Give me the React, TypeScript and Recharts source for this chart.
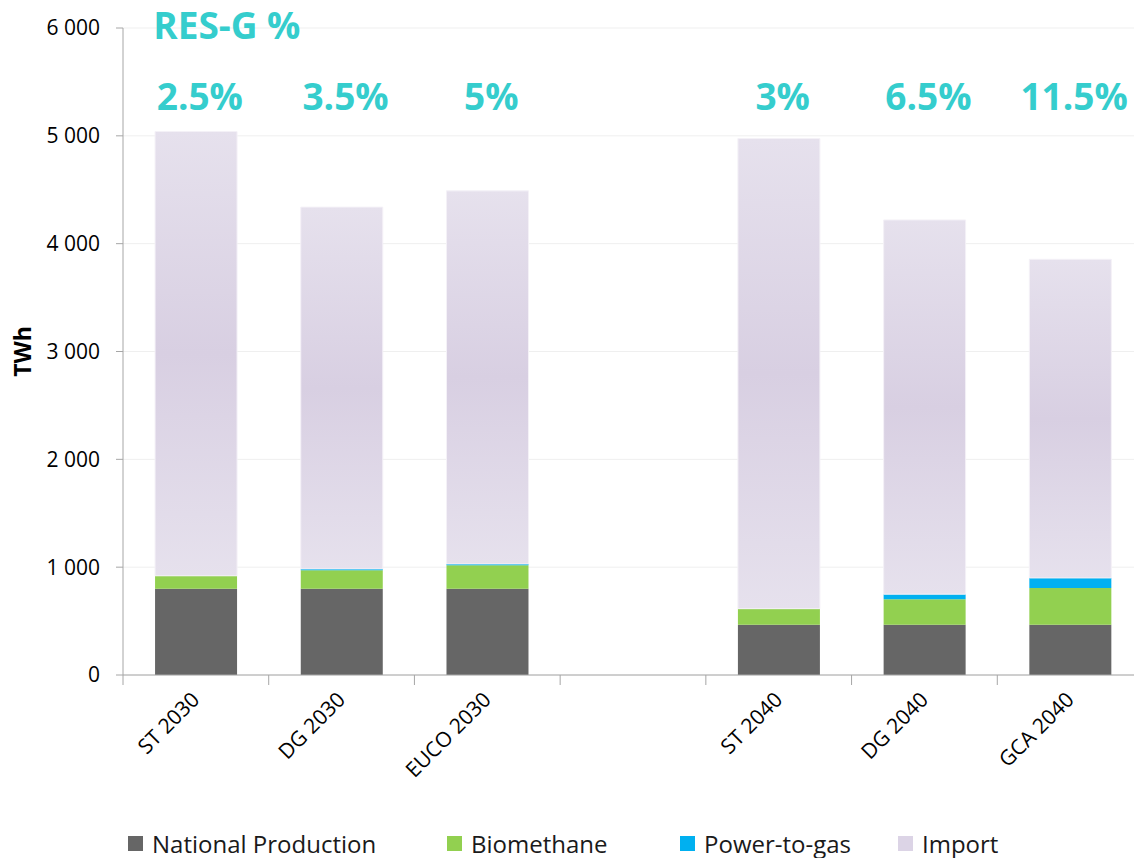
import {
  BarChart,
  Bar,
  XAxis,
  YAxis,
  CartesianGrid,
  Legend,
  ReferenceDot,
} from "recharts";

// scenarios, with an empty slot between 2030 and 2040
const scenarios = ["ST 2030", "DG 2030", "EUCO 2030", "", "ST 2040", "DG 2040", "GCA 2040"];
const nationalProduction = [800, 800, 800, null, 465, 465, 465];
const biomethane = [120, 172, 218, null, 150, 237, 342];
const powerToGas = [0, 12, 12, null, 0, 48, 93];
const importGas = [4120, 3355, 3460, null, 4360, 3470, 2955];
const resShare = ["2.5%", "3.5%", "5%", null, "3%", "6.5%", "11.5%"];
const yTicks = [0, 1000, 2000, 3000, 4000, 5000, 6000];

const seriesNames = ["National Production", "Biomethane", "Power-to-gas", "Import"];
const seriesColors = ["#666666", "#92D050", "#00B0F0", "#DCD4E6"];

const data = scenarios.map((s, i) => ({
  name: s,
  national: nationalProduction[i],
  bio: biomethane[i],
  p2g: powerToGas[i],
  imp: importGas[i],
}));

const CYAN = "#35CDCD";
const LABEL_Y = 5370;

const fmt = (v: number) => String(v).replace(/\B(?=(\d{3})+(?!\d))/g, " ");

function XTick(props: any) {
  const { x, y, payload } = props;
  const off = payload.offset ?? 72.9;
  return (
    <g>
      <line x1={x - off} y1={y} x2={x - off} y2={y + 10} stroke="#A6A6A6" />
      {payload.value && (
        <text
          x={x + 5}
          y={y + 26}
          textAnchor="end"
          fontSize={21}
          fill="#000"
          transform={`rotate(-45, ${x + 5}, ${y + 26})`}
        >
          {payload.value}
        </text>
      )}
    </g>
  );
}

function LegendBox() {
  const widths = [319, 233, 218, 150];
  return (
    <div style={{ display: "flex", paddingLeft: 128, height: 30, alignItems: "center" }}>
      {seriesNames.map((n, i) => (
        <div key={n} style={{ width: widths[i], display: "flex", alignItems: "center" }}>
          <span style={{ width: 15, height: 15, background: seriesColors[i], marginRight: 9 }} />
          <span style={{ fontSize: 24, color: "#1a1a1a", whiteSpace: "nowrap" }}>{n}</span>
        </div>
      ))}
    </div>
  );
}

export default function App() {
  return (
    <div
      style={{
        position: "absolute",
        left: 0,
        top: 0,
        width: 1134,
        height: 858,
        overflow: "hidden",
        background: "#fff",
        fontFamily: "'Open Sans', sans-serif",
      }}
    >
      <BarChart
        width={1143}
        height={858}
        data={data}
        margin={{ top: 28, right: 0, left: 0, bottom: 0 }}
        barCategoryGap="22%"
      >
        <defs>
          <linearGradient id="impGrad" x1="0" y1="0" x2="0" y2="1">
            <stop offset="0%" stopColor="#E6E1ED" />
            <stop offset="50%" stopColor="#D8CFE2" />
            <stop offset="100%" stopColor="#E6E1ED" />
          </linearGradient>
        </defs>
        <CartesianGrid vertical={false} stroke="#EFEFEF" />
        <XAxis
          dataKey="name"
          height={153}
          interval={0}
          tickLine={false}
          tickSize={0}
          tickMargin={0}
          axisLine={{ stroke: "#A6A6A6" }}
          tick={<XTick />}
        />
        <YAxis
          width={123}
          domain={[0, 6000]}
          ticks={yTicks}
          tickFormatter={fmt}
          tickSize={7}
          tickMargin={16}
          axisLine={{ stroke: "#A6A6A6" }}
          tickLine={{ stroke: "#A6A6A6" }}
          tick={{ fontSize: 21, fill: "#000" }}
          label={{
            content: (p: any) => {
              const vb = p.viewBox;
              const cx = vb.x + 22;
              const cy = vb.y + vb.height / 2;
              return (
                <text
                  x={cx}
                  y={cy}
                  textAnchor="middle"
                  dominantBaseline="central"
                  fontSize={23}
                  fontWeight="bold"
                  fill="#000"
                  transform={`rotate(-90, ${cx}, ${cy})`}
                >
                  TWh
                </text>
              );
            },
          }}
        />
        <Legend verticalAlign="bottom" content={<LegendBox />} wrapperStyle={{ height: 30, left: 0, width: 1143 }} />
        <Bar dataKey="national" name={seriesNames[0]} stackId="a" fill={seriesColors[0]} isAnimationActive={false} />
        <Bar dataKey="bio" name={seriesNames[1]} stackId="a" fill={seriesColors[1]} isAnimationActive={false} />
        <Bar dataKey="p2g" name={seriesNames[2]} stackId="a" fill={seriesColors[2]} isAnimationActive={false} />
        <Bar
          dataKey="imp"
          name={seriesNames[3]}
          stackId="a"
          fill="url(#impGrad)"
          stroke="#F4F1F7"
          strokeWidth={1}
          isAnimationActive={false}
        />
        <ReferenceDot
          x="ST 2030"
          y={6000}
          r={1}
          ifOverflow="visible"
          shape={(p: any) => (
            <text
              x={p.cx + 31}
              y={p.cy - 4}
              textAnchor="middle"
              dominantBaseline="central"
              fontSize={37}
              fontWeight="bold"
              fill={CYAN}
            >
              RES-G %
            </text>
          )}
        />
        {scenarios.map((s, i) =>
          resShare[i] ? (
            <ReferenceDot
              key={s}
              x={s}
              y={LABEL_Y}
              r={1}
              shape={(p: any) => (
                <text
                  x={p.cx + 4}
                  y={p.cy}
                  textAnchor="middle"
                  dominantBaseline="central"
                  fontSize={37}
                  fontWeight="bold"
                  fill={CYAN}
                >
                  {resShare[i]}
                </text>
              )}
            />
          ) : null
        )}
      </BarChart>
    </div>
  );
}
